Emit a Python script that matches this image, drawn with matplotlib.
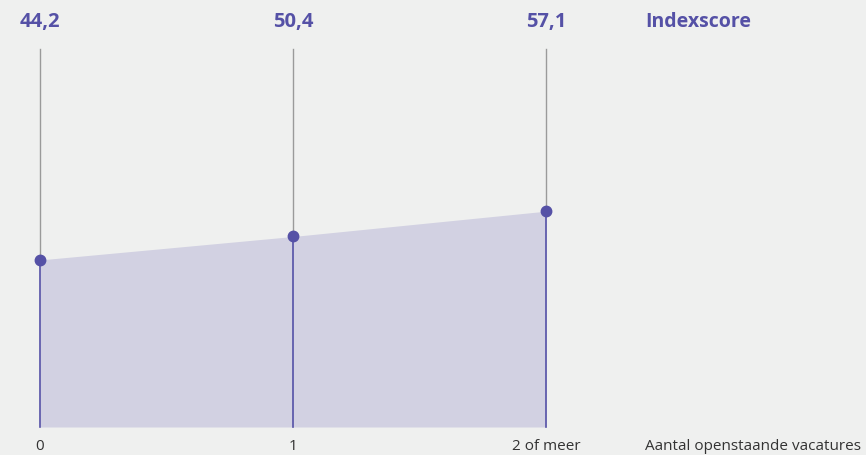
import numpy as np
import matplotlib.pyplot as plt

# index score per number of open vacancies
categories = ["0", "1", "2 of meer"]
scores = [44.2, 50.4, 57.1]
score_labels = ["44,2", "50,4", "57,1"]

bg = "#eff0ef"
purple = "#5551a6"
fill = "#d2d1e2"
grey = "#9a9a9a"

plt.rcParams["font.family"] = ["Open Sans", "DejaVu Sans"]

fig = plt.figure(figsize=(8.66, 4.56), dpi=100, facecolor=bg)
ax = fig.add_axes([40 / 866, 28 / 456, 506 / 866, 378 / 456])
ax.set_facecolor(bg)

x = np.arange(len(categories))
ax.set_xlim(0, len(categories) - 1)
ax.set_ylim(0, 100)

ax.fill_between(x, 0, scores, color=fill, lw=0, zorder=1)
for xi, s in zip(x, scores):
    ax.plot([xi, xi], [s, 100], color=grey, lw=1, zorder=2, clip_on=False)
    ax.plot([xi, xi], [0, s], color=purple, lw=1.2, zorder=2, clip_on=False)
ax.plot(x, scores, "o", color=purple, ms=7.5, zorder=3, clip_on=False)

ax.axis("off")

# value labels on top and category labels below
for xi, lab, cat in zip(x, score_labels, categories):
    xf = (40 + xi * 253) / 866
    fig.text(xf, 1 - 22 / 456, lab, ha="center", va="center",
             color=purple, fontsize=14.5, fontweight="bold")
    fig.text(xf, 1 - 447 / 456, cat, ha="center", va="center",
             color="#333333", fontsize=11)

fig.text(645 / 866, 1 - 22 / 456, "Indexscore", ha="left", va="center",
         color=purple, fontsize=14, fontweight="bold")
fig.text(645 / 866, 1 - 447 / 456, "Aantal openstaande vacatures", ha="left",
         va="center", color="#333333", fontsize=11)

fig.savefig("out.png", dpi=100, facecolor=bg)
